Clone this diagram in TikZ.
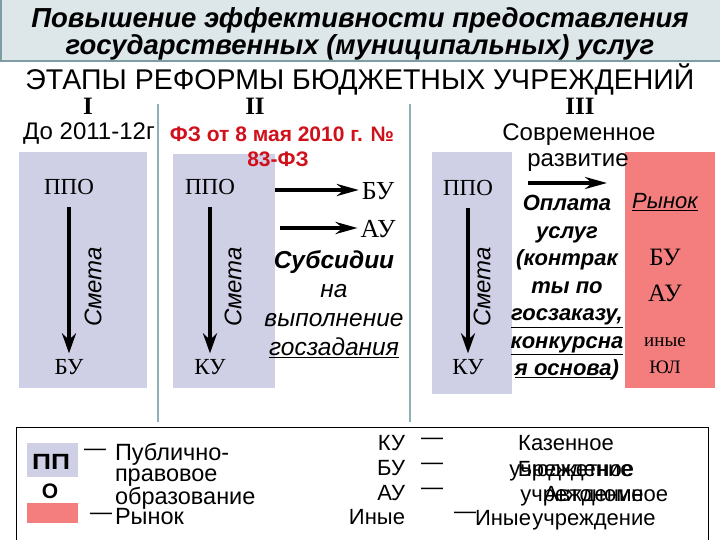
\documentclass[tikz,border=0pt]{standalone}
\usepackage{fontspec}
\setmainfont{Liberation Sans}
\newfontfamily\serif{Liberation Serif}
\usetikzlibrary{arrows.meta}
\definecolor{band}{HTML}{DDE6E9}
\definecolor{bandline}{HTML}{7E9CA3}
\definecolor{lilac}{HTML}{CFCFE6}
\definecolor{pinkbox}{HTML}{F47E7E}
\definecolor{divider}{HTML}{8DB1B8}
\definecolor{redtxt}{HTML}{D0101A}
\newcommand{\fs}[2]{\fontsize{#1}{#2}\selectfont}
\begin{document}
\begin{tikzpicture}[x=1pt,y=-1pt,
  every node/.style={inner sep=0pt,outer sep=0pt},
  serifbig/.style={font=\serif\fs{23}{27}},
  smetalabel/.style={font=\itshape\fs{24}{28},rotate=90},
  varr/.style={line width=4pt,-{Stealth[length=20pt,width=14pt]}},
  harr/.style={line width=4.5pt,-{Stealth[length=22pt,width=12pt]}},
  legtext/.style={font=\fs{23.5}{21},align=left,anchor=west},
  legr/.style={font=\fs{22}{24},anchor=base east},
  legw/.style={font=\fs{22}{24},anchor=base}]
\useasboundingbox (0,0) rectangle (720,540);
% header band
\fill[band] (0,0) rectangle (720,61);
\draw[bandline,line width=1.2pt] (1,-2) -- (1,61) -- (722,61);
\node (title1) at (360,20) {\fs{27.5}{30}\bfseries\itshape Повышение эффективности предоставления};
\node (title2) at (360,47) {\fs{27.5}{30}\bfseries\itshape государственных (муниципальных) услуг};
\node (head) at (360,79) {\fs{28.5}{30}ЭТАПЫ РЕФОРМЫ БЮДЖЕТНЫХ УЧРЕЖДЕНИЙ};
\node (r1) at (88,106) {\serif\bfseries\fs{25}{27}I};
\node (r2) at (255,106) {\serif\bfseries\fs{25}{27}II};
\node (r3) at (580,106) {\serif\bfseries\fs{25}{27}III};
% dividers
\draw[divider,line width=1.2pt] (158,104) -- (158,422);
\draw[divider,line width=1.2pt] (410,104) -- (410,422);
% boxes
\fill[lilac] (19,152) rectangle (147,388);
\fill[lilac] (173,154) rectangle (275,388);
\fill[lilac] (432,152) rectangle (512,394);
\fill[pinkbox] (625,152) rectangle (715,388);
% stage texts
\node (do) at (89,134) {\fs{24}{26}До 2011-12г};
\node[text=redtxt] (fz1) at (282,134) {\fs{21}{24}\bfseries ФЗ от 8 мая 2010 г. №};
\node[text=redtxt] (fz2) at (278,159) {\fs{21}{24}\bfseries 83-ФЗ};
\node (sovr) at (579,135) {\fs{24}{26}Современное};
\node (razv) at (578,163) {\fs{24}{26}развитие};
% stage I
\node[serifbig] (ppo1) at (69,187) {ППО};
\node[serifbig] (bu1) at (69,367) {БУ};
\node[smetalabel] (sm1) at (93,287) {Смета};
\draw[varr,shorten <=12pt,shorten >=6pt] (ppo1) -- (bu1);
% stage II
\node[serifbig] (ppo2) at (210,187) {ППО};
\node[serifbig] (ku2) at (210,367) {КУ};
\node[smetalabel] (sm2) at (233,287) {Смета};
\draw[varr,shorten <=12pt,shorten >=6pt] (ppo2) -- (ku2);
\node[font=\serif\fs{26}{28}] (bu2) at (378,191) {БУ};
\node[font=\serif\fs{26}{28}] (au2) at (378,229) {АУ};
\coordinate (h1) at (275,190);
\coordinate (h2) at (280,228);
\draw[harr,shorten >=3pt] (h1) -- (bu2.west |- h1);
\draw[harr,shorten >=3pt] (h2) -- (au2.west |- h2);
\node[align=center,font=\itshape\fs{24.5}{29}] (subs) at (334,304)
  {\textbf{Субсидии}\\на\\выполнение\\\underline{госзадания}};
% stage III
\node[serifbig] (ppo3) at (468,188) {ППО};
\node[serifbig] (ku3) at (468,367) {КУ};
\node[smetalabel] (sm3) at (482,287) {Смета};
\draw[varr,shorten <=12pt,shorten >=6pt] (ppo3) -- (ku3);
\coordinate (h3s) at (528,183);
\coordinate (h3e) at (607,183);
\draw[harr] (h3s) -- (h3e);
\node[align=center,font=\bfseries\itshape\fs{22}{27.5}] (opl) at (567,288)
  {Оплата\\услуг\\(контрак\\ты по\\\underline{госзаказу,}\\\underline{конкурсна}\\\underline{я основа})};
\node (rynok) at (665,202) {\itshape\fs{22}{24}\underline{Рынок}};
\node[font=\serif\fs{25}{27}] (bu3) at (665,257) {БУ};
\node[font=\serif\fs{25}{27}] (au3) at (665,293) {АУ};
\node[font=\serif\fs{19}{21}] (inye3) at (665,342) {иные};
\node[font=\serif\fs{19}{21}] (yul3) at (665,367) {ЮЛ};
% legend
\draw[line width=1pt] (16,545) -- (16,427) -- (708,427) -- (708,545);
\fill[lilac] (27,443) rectangle (78,477);
\fill[pinkbox] (27,503) rectangle (78,523);
\node (lpp) at (51,462) {\bfseries\fs{22}{24}\scalebox{1.2}[1]{ПП}};
\node (lo) at (50,491) {\bfseries\fs{21}{24}О};
\node (ld1) at (95,452) {\fs{22}{24}—};
\node[legtext] (lpub) at (115,476) {Публично-\\правовое\\образование};
\node (ld2) at (101,516) {\fs{22}{24}—};
\node[legtext] (lryn) at (115,517) {Рынок};
\node[legr] (lku) at (405,450) {КУ};
\node[legr] (lbu) at (405,475) {БУ};
\node[legr] (lau) at (405,500) {АУ};
\node[legr] (lin) at (405,524) {Иные};
\node (lda) at (432,441) {\fs{22}{24}—};
\node (ldb) at (432,466) {\fs{22}{24}—};
\node (ldc) at (432,491) {\fs{22}{24}—};
\node (ldd) at (465,515) {\fs{22}{24}—};
\node[legw] (kaz) at (566,450) {Казенное};
\node[legw] (uch1) at (571,476) {учреждение};
\node[legw] (bud) at (576,476) {Бюджетное};
\node[legw] (uch2) at (582,501) {учреждение};
\node[legw] (avt) at (606,501) {Автономное};
\node[legw,anchor=base west] (iny) at (475,525) {Иные};
\node[legw] (uch3) at (594,525) {учреждение};
\end{tikzpicture}
\end{document}
